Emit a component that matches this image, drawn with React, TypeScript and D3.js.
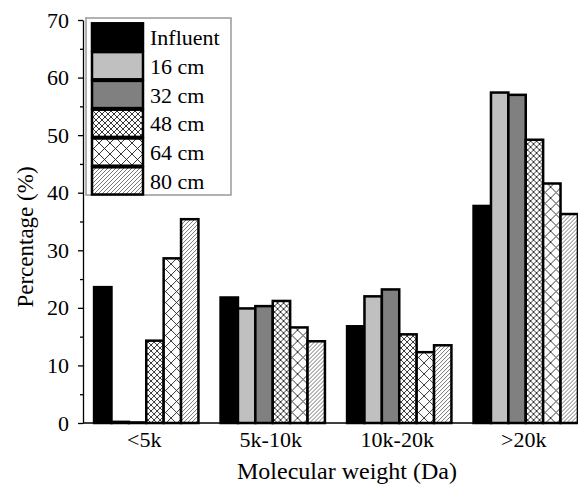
import { useEffect, useRef } from "react";
import * as d3 from "d3";

// Données
const categories = ["<5k", "5k-10k", "10k-20k", ">20k"];
const seriesNames = ["Influent", "16 cm", "32 cm", "48 cm", "64 cm", "80 cm"];
const influent = [23.6, 21.8, 16.8, 37.7];
const cm16 = [0.2, 19.9, 22.0, 57.4];
const cm32 = [0.1, 20.3, 23.2, 57.0];
const cm48 = [14.3, 21.2, 15.4, 49.2];
const cm64 = [28.6, 16.6, 12.3, 41.6];
const cm80 = [35.4, 14.2, 13.5, 36.3];
const yTicks = [0, 10, 20, 30, 40, 50, 60, 70];
const yMinorTicks = [5, 15, 25, 35, 45, 55, 65];

const seriesValues = [influent, cm16, cm32, cm48, cm64, cm80];
const fills = ["#000", "#c0c0c0", "#808080", "url(#hatch48)", "url(#hatch64)", "url(#hatch80)"];

const W = 578;
const H = 486;
const FONT = "'Liberation Serif', 'Times New Roman', serif";

export default function App() {
  const svgRef = useRef<SVGSVGElement>(null);

  useEffect(() => {
    if (!svgRef.current) return;
    const svg = d3.select(svgRef.current);
    svg.selectAll("*").remove();

    const margin = { top: 20, left: 83, bottom: 423 };
    const x0 = d3
      .scaleBand()
      .domain(categories)
      .range([margin.left, 589])
      .paddingInner(0.175)
      .paddingOuter(0.0875);
    const x1 = d3.scaleBand().domain(seriesNames).range([0, x0.bandwidth()]);
    const y = d3.scaleLinear().domain([0, 70]).range([margin.bottom, margin.top]);

    // Motifs de hachures
    const defs = svg.append("defs");
    const cross = (id: string, s: number, sw: number) => {
      const p = defs
        .append("pattern")
        .attr("id", id)
        .attr("patternUnits", "userSpaceOnUse")
        .attr("width", s)
        .attr("height", s);
      p.append("rect").attr("width", s).attr("height", s).attr("fill", "#fff");
      p.append("path")
        .attr("d", `M0,0L${s},${s}M0,${s}L${s},0`)
        .attr("stroke", "#222")
        .attr("stroke-width", sw);
    };
    cross("hatch48", 6, 0.9);
    cross("hatch64", 11, 0.9);
    const p80 = defs
      .append("pattern")
      .attr("id", "hatch80")
      .attr("patternUnits", "userSpaceOnUse")
      .attr("width", 4)
      .attr("height", 4);
    p80.append("rect").attr("width", 4).attr("height", 4).attr("fill", "#fff");
    p80.append("path")
      .attr("d", "M-1,1L1,-1M0,4L4,0M3,5L5,3")
      .attr("stroke", "#555")
      .attr("stroke-width", 0.8);

    // Barres
    const groups = svg
      .append("g")
      .selectAll("g")
      .data(categories)
      .enter()
      .append("g")
      .attr("transform", (c) => `translate(${x0(c)},0)`);

    groups
      .selectAll("rect")
      .data((_c, i) => seriesNames.map((s, k) => ({ s, k, v: seriesValues[k][i] })))
      .enter()
      .append("rect")
      .attr("x", (d) => x1(d.s) || 0)
      .attr("y", (d) => y(d.v))
      .attr("width", x1.bandwidth())
      .attr("height", (d) => y(0) - y(d.v))
      .attr("fill", (d) => fills[d.k])
      .attr("stroke", "#000")
      .attr("stroke-width", 2.5);

    // Axe Y
    const yAxis = svg
      .append("g")
      .attr("transform", `translate(${margin.left},0)`)
      .call(d3.axisLeft(y).tickValues(yTicks).tickSize(5).tickPadding(9).tickSizeOuter(0));
    yAxis.selectAll("text").style("font-family", FONT).style("font-size", "22px").attr("fill", "#000");
    yAxis.selectAll("line, path").attr("stroke", "#000").attr("stroke-width", 1.3);

    svg
      .append("g")
      .attr("transform", `translate(${margin.left},0)`)
      .call(d3.axisLeft(y).tickValues(yMinorTicks).tickSize(3).tickFormat(() => "").tickSizeOuter(0))
      .call((g) => g.select(".domain").remove())
      .selectAll("line")
      .attr("stroke", "#000")
      .attr("stroke-width", 1.3);

    // Axe X (ligne seule, sans graduations)
    svg
      .append("line")
      .attr("x1", margin.left)
      .attr("x2", W)
      .attr("y1", y(0))
      .attr("y2", y(0))
      .attr("stroke", "#000")
      .attr("stroke-width", 1.5);

    svg
      .append("g")
      .selectAll("text")
      .data(categories)
      .enter()
      .append("text")
      .attr("x", (c) => (x0(c) || 0) + x0.bandwidth() / 2 - 2)
      .attr("y", 447)
      .attr("text-anchor", "middle")
      .style("font-family", FONT)
      .style("font-size", "22px")
      .text((c) => c);

    // Titres
    svg
      .append("text")
      .attr("x", 347)
      .attr("y", 479)
      .attr("text-anchor", "middle")
      .style("font-family", FONT)
      .style("font-size", "24px")
      .text("Molecular weight (Da)");

    svg
      .append("text")
      .attr("transform", "translate(33,237) rotate(-90)")
      .attr("text-anchor", "middle")
      .style("font-family", FONT)
      .style("font-size", "23px")
      .text("Percentage (%)");

    // Légende
    const lg = svg.append("g");
    lg.append("rect")
      .attr("x", 86)
      .attr("y", 18)
      .attr("width", 145)
      .attr("height", 177)
      .attr("fill", "#fff")
      .attr("stroke", "#999")
      .attr("stroke-width", 1.5);
    const rowH = 28.8;
    seriesNames.forEach((s, k) => {
      const ry = 22.5 + k * rowH;
      lg.append("rect")
        .attr("x", 92)
        .attr("y", ry + 0.8)
        .attr("width", 51)
        .attr("height", rowH - 1.6)
        .attr("fill", fills[k])
        .attr("stroke", "#000")
        .attr("stroke-width", 2.5);
      lg.append("text")
        .attr("x", 150)
        .attr("y", ry + rowH / 2 + 8)
        .style("font-family", FONT)
        .style("font-size", "22px")
        .text(s);
    });
  }, []);

  return (
    <div style={{ position: "absolute", left: 0, top: 0 }}>
      <svg ref={svgRef} width={W} height={H} style={{ display: "block", background: "#fff" }} />
    </div>
  );
}
